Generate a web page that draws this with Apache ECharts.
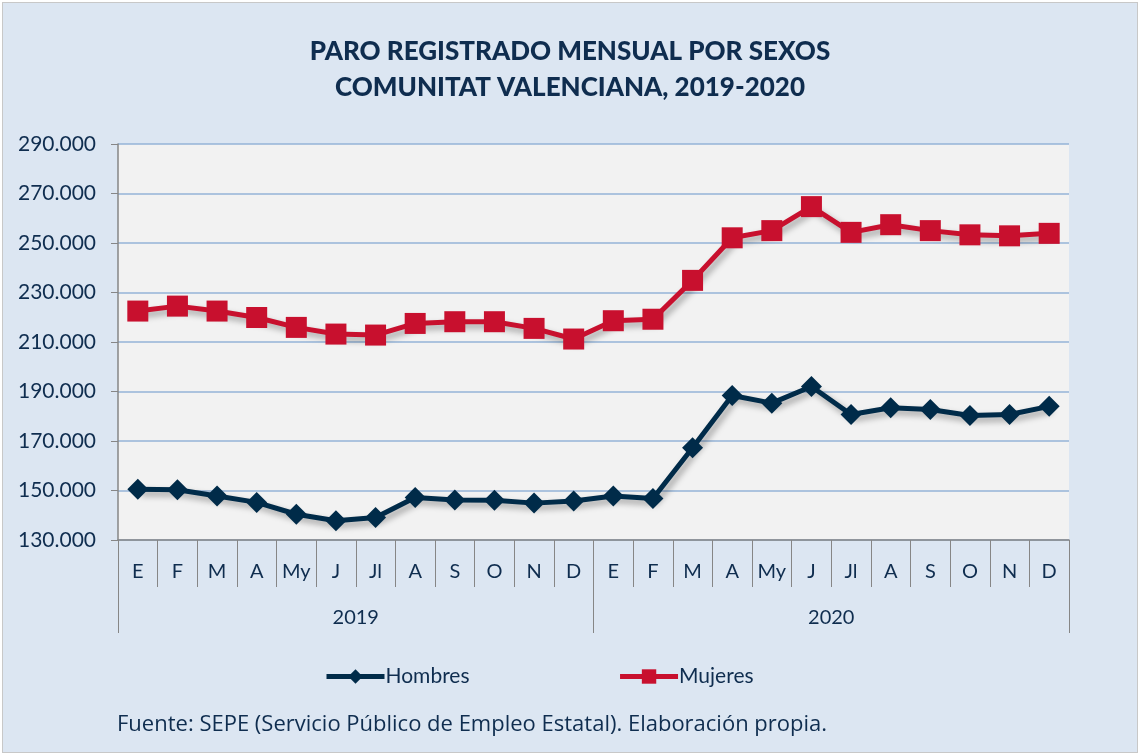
<!DOCTYPE html>
<html>
<head>
<meta charset="utf-8">
<script src="https://cdn.jsdelivr.net/npm/echarts@6/dist/echarts.min.js"></script>
<style>
html, body { margin: 0; padding: 0; background: #ffffff; }
#chart { position: absolute; left: 2px; top: 2px; width: 1134px; height: 749px; border: 1px solid #c8c8c8; background: #dce6f2; }
</style>
</head>
<body>
<div id="chart"></div>
<script>
var months = ['E','F','M','A','My','J','Jl','A','S','O','N','D','E','F','M','A','My','J','Jl','A','S','O','N','D'];
var years = ['2019', '2020'];
var hombres = [150500, 150300, 147800, 145200, 140400, 137800, 139100, 147200, 146200, 146100, 144900, 145800,
               147800, 146800, 167300, 188400, 185300, 192000, 180700, 183400, 182700, 180300, 180700, 184000];
var mujeres = [222500, 224500, 222500, 219900, 215900, 213200, 212800, 217500, 218200, 218200, 215500, 211200,
               218600, 219200, 234900, 252100, 255000, 264700, 254300, 257400, 255000, 253300, 252900, 253900];

var navy = '#002b49';
var red = '#c8102e';
var txt = '#0f2d4f';
var fnt = 'Lato, "Open Sans", sans-serif';

var chart = echarts.init(document.getElementById('chart'));

var option = {
    animation: false,
    backgroundColor: '#dce6f2',
    textStyle: { fontFamily: fnt },
    title: {
        text: 'PARO REGISTRADO MENSUAL POR SEXOS\nCOMUNITAT VALENCIANA, 2019-2020',
        left: 'center',
        top: 26,
        textStyle: { fontSize: 26, fontWeight: 900, color: txt, lineHeight: 36, fontFamily: fnt }
    },
    graphic: [{
        type: 'text',
        left: 114,
        top: 711,
        style: { text: 'Fuente: SEPE (Servicio Público de Empleo Estatal). Elaboración propia.', fontSize: 22, fill: txt, fontFamily: '"Open Sans", sans-serif' }
    }],
    legend: {
        top: 658,
        left: 316,
        itemGap: 148,
        itemWidth: 58,
        itemHeight: 18,
        lineStyle: { width: 5 },
        textStyle: { fontSize: 21, color: txt, padding: [0, 0, 0, -4] },
        data: ['Hombres', 'Mujeres']
    },
    grid: { left: 115, right: 68, top: 141, bottom: 212, backgroundColor: '#f2f2f2', show: true, borderWidth: 0 },
    xAxis: [{
        type: 'category',
        data: months,
        position: 'bottom',
        axisLine: { lineStyle: { color: '#868686', width: 1.5 } },
        axisTick: { show: true, length: 47, lineStyle: { color: '#868686' } },
        axisLabel: { margin: 22, fontSize: 20, color: txt, interval: 0 }
    }, {
        type: 'category',
        data: years,
        position: 'bottom',
        axisLine: { show: false },
        axisTick: { show: true, length: 93, lineStyle: { color: '#868686' } },
        axisLabel: { margin: 68, fontSize: 20, color: txt }
    }],
    yAxis: {
        type: 'value',
        min: 130000,
        max: 290000,
        interval: 20000,
        axisLine: { show: true, lineStyle: { color: '#868686', width: 1.5 } },
        axisTick: { show: true, length: 7, lineStyle: { color: '#868686' } },
        splitLine: { lineStyle: { color: '#95b3d7', width: 1.5 } },
        axisLabel: {
            fontSize: 21, color: txt, margin: 22,
            formatter: function (v) { return (v / 1000).toFixed(0) + '.000'; }
        }
    },
    series: [{
        name: 'Hombres',
        type: 'line',
        data: hombres,
        symbol: 'diamond',
        symbolSize: 21,
        itemStyle: { color: navy },
        lineStyle: { color: navy, width: 5, shadowColor: 'rgba(0,0,0,0.35)', shadowBlur: 6, shadowOffsetX: 3, shadowOffsetY: 4 }
    }, {
        name: 'Mujeres',
        type: 'line',
        data: mujeres,
        symbol: 'rect',
        symbolSize: 21,
        itemStyle: { color: red },
        lineStyle: { color: red, width: 5, shadowColor: 'rgba(0,0,0,0.35)', shadowBlur: 6, shadowOffsetX: 3, shadowOffsetY: 4 }
    }]
};

chart.setOption(option);
</script>
</body>
</html>
